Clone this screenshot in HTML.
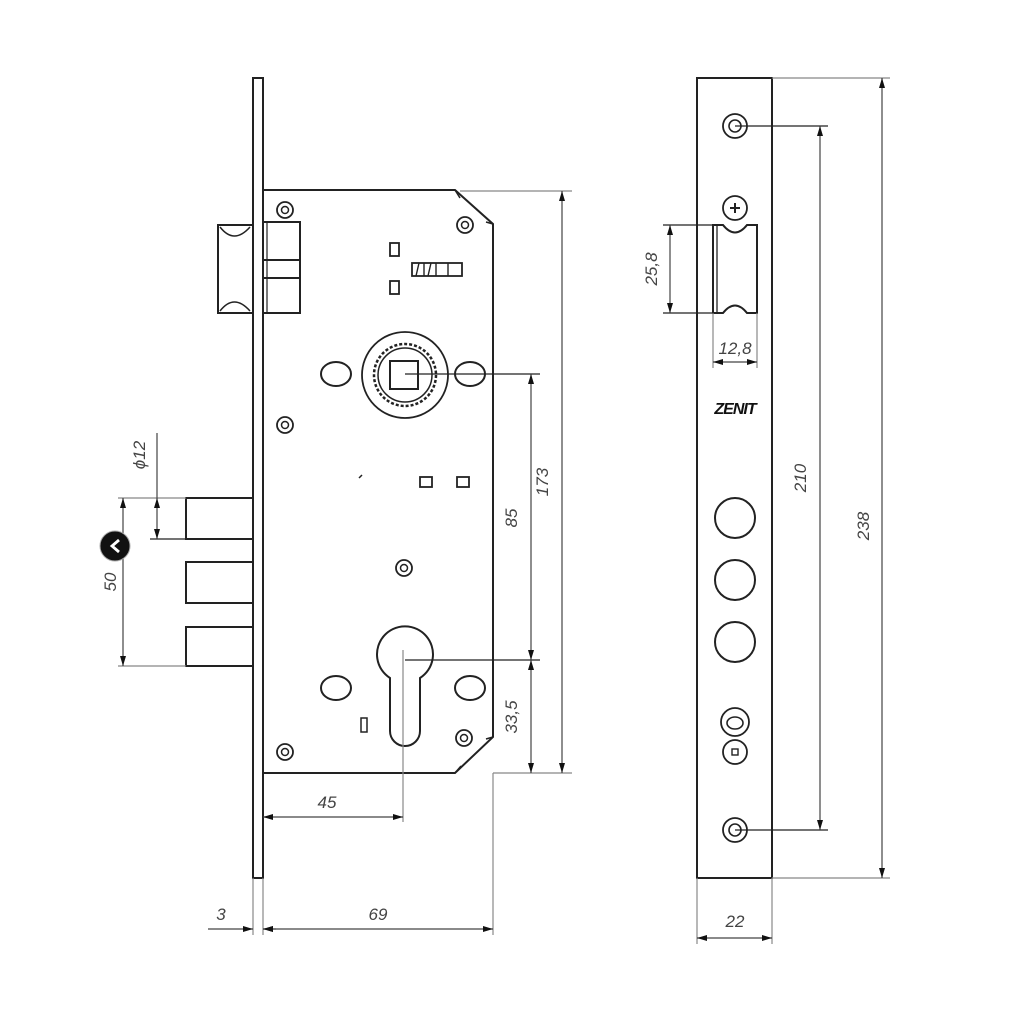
<!DOCTYPE html>
<html><head><meta charset="utf-8"><style>
html,body{margin:0;padding:0;background:#fff;}
svg{display:block;}
text{font-family:"Liberation Sans",sans-serif;font-style:italic;fill:#444;font-size:17px;}
</style></head><body>
<svg width="1024" height="1024" viewBox="0 0 1024 1024" xmlns="http://www.w3.org/2000/svg">
<defs>
<marker id="a" viewBox="0 0 10 6" refX="10" refY="3" markerWidth="10" markerHeight="6" orient="auto-start-reverse" markerUnits="userSpaceOnUse"><path d="M0,0 L10,3 L0,6 z" fill="#111"/></marker>
<g id="scr"><circle r="8" fill="none" stroke="#222" stroke-width="1.8"/><circle r="3.5" fill="none" stroke="#222" stroke-width="1.5"/></g>
</defs>
<g fill="none" stroke="#222" stroke-width="2">
<rect x="253" y="78" width="10" height="800"/>
<path d="M263,190 L455,190 L493,224 L493,737 L455,773 L263,773"/>
<path d="M455,190 L460,198 M493,224 L486,222 M493,737 L486,739 M455,773 L461,766" stroke-width="1.5"/>
<rect x="218" y="225" width="35" height="88"/>
<path d="M220,227 Q234,245 250,227 M220,311 Q234,293 250,311" stroke-width="1.5"/>
<rect x="263" y="222" width="37" height="91"/>
<line x1="263" y1="260" x2="300" y2="260"/><line x1="263" y1="278" x2="300" y2="278"/>
<line x1="267" y1="222" x2="267" y2="313" stroke-width="1.2"/>
<rect x="390" y="243" width="9" height="13" stroke-width="1.8"/>
<rect x="390" y="281" width="9" height="13" stroke-width="1.8"/>
<rect x="412" y="263" width="50" height="13" stroke-width="1.8"/>
<path d="M424,263 V276 M436,263 V276 M448,263 V276 M416,276 L419,263 M428,276 L431,263" stroke-width="1.4"/>
<circle cx="405" cy="375" r="43" stroke-width="1.8"/>
<circle cx="405" cy="375" r="31" stroke-width="2.5" stroke-dasharray="3 2"/>
<circle cx="405" cy="375" r="27" stroke-width="1.5"/>
<rect x="390" y="361" width="28" height="28"/>
<ellipse cx="336" cy="374" rx="15" ry="12"/>
<ellipse cx="470" cy="374" rx="15" ry="12"/>
<rect x="420" y="477" width="12" height="10" stroke-width="1.8"/>
<rect x="457" y="477" width="12" height="10" stroke-width="1.8"/>
<line x1="359" y1="478" x2="362" y2="475" stroke-width="1.5"/>
<path d="M253,498 H186 V539 H253 M253,562 H186 V603 H253 M253,627 H186 V666 H253"/>
<path d="M390,678 A28,28 0 1 1 420,678 L420,731 A15,15 0 0 1 390,731 Z"/>
<ellipse cx="336" cy="688" rx="15" ry="12"/>
<ellipse cx="470" cy="688" rx="15" ry="12"/>
<rect x="361" y="718" width="6" height="14" stroke-width="1.5"/>
</g>
<use href="#scr" x="285" y="210"/><use href="#scr" x="465" y="225"/><use href="#scr" x="285" y="425"/>
<use href="#scr" x="404" y="568"/><use href="#scr" x="285" y="752"/><use href="#scr" x="464" y="738"/>

<g stroke="#444" stroke-width="1.2" fill="none">
<line x1="460" y1="191" x2="572" y2="191" stroke="#888"/>
<line x1="493" y1="773" x2="572" y2="773" stroke="#888"/>
<line x1="562" y1="191" x2="562" y2="773" marker-start="url(#a)" marker-end="url(#a)"/>
<line x1="405" y1="374" x2="540" y2="374" stroke="#222"/>
<line x1="405" y1="660" x2="540" y2="660" stroke="#222"/>
<line x1="531" y1="374" x2="531" y2="660" marker-start="url(#a)" marker-end="url(#a)"/>
<line x1="531" y1="660" x2="531" y2="773" marker-start="url(#a)" marker-end="url(#a)"/>
<line x1="403" y1="650" x2="403" y2="822" stroke="#888"/>
<line x1="263" y1="817" x2="403" y2="817" marker-start="url(#a)" marker-end="url(#a)"/>
<line x1="493" y1="773" x2="493" y2="935" stroke="#888"/>
<line x1="253" y1="878" x2="253" y2="935" stroke="#888"/>
<line x1="263" y1="878" x2="263" y2="935" stroke="#888"/>
<line x1="263" y1="929" x2="493" y2="929" marker-start="url(#a)" marker-end="url(#a)"/>
<line x1="208" y1="929" x2="253" y2="929" marker-end="url(#a)"/>
<line x1="276" y1="929" x2="263" y2="929" marker-end="url(#a)"/>
<line x1="118" y1="498" x2="186" y2="498" stroke="#888"/>
<line x1="118" y1="666" x2="186" y2="666" stroke="#888"/>
<line x1="123" y1="498" x2="123" y2="666" marker-start="url(#a)" marker-end="url(#a)"/>
<line x1="150" y1="539" x2="186" y2="539" stroke="#222"/>
<line x1="157" y1="433" x2="157" y2="498"/>
<line x1="157" y1="498" x2="157" y2="539" marker-start="url(#a)" marker-end="url(#a)"/>
</g>
<text x="548" y="482" transform="rotate(-90 548 482)" text-anchor="middle">173</text>
<text x="517" y="518" transform="rotate(-90 517 518)" text-anchor="middle">85</text>
<text x="517" y="717" transform="rotate(-90 517 717)" text-anchor="middle">33,5</text>
<text x="327" y="808" text-anchor="middle">45</text>
<text x="378" y="920" text-anchor="middle">69</text>
<text x="221" y="920" text-anchor="middle">3</text>
<text x="116" y="582" transform="rotate(-90 116 582)" text-anchor="middle">50</text>
<text x="145" y="455" transform="rotate(-90 145 455)" text-anchor="middle">ϕ12</text>
<circle cx="115" cy="546" r="15" fill="#111" stroke="#aaa" stroke-width="1"/>
<path d="M119,540 L112,546 L119,552" fill="none" stroke="#fff" stroke-width="2.8"/>

<g fill="none" stroke="#222" stroke-width="2">
<rect x="697" y="78" width="75" height="800"/>
<circle cx="735" cy="126" r="12" stroke-width="1.8"/><circle cx="735" cy="126" r="6" stroke-width="1.6"/>
<circle cx="735" cy="208" r="12" stroke-width="1.8"/>
<path d="M730,208 H740 M735,203 V213" stroke-width="2"/>
<path d="M713,225 V313 H723 Q735,298 747,313 H757 V225 H747 Q735,240 723,225 Z"/>
<line x1="717" y1="225" x2="717" y2="313" stroke-width="1.3"/>
<circle cx="735" cy="518" r="20"/><circle cx="735" cy="580" r="20"/><circle cx="735" cy="642" r="20"/>
<circle cx="735" cy="722" r="14" stroke-width="1.8"/><ellipse cx="735" cy="723" rx="8" ry="6" stroke-width="1.6"/>
<circle cx="735" cy="752" r="12" stroke-width="1.8"/><rect x="732" y="749" width="6" height="6" stroke-width="1.4"/>
<circle cx="735" cy="830" r="12" stroke-width="1.8"/><circle cx="735" cy="830" r="6" stroke-width="1.6"/>
</g>
<g stroke="#444" stroke-width="1.2" fill="none">
<line x1="663" y1="225" x2="713" y2="225" stroke="#222"/>
<line x1="663" y1="313" x2="713" y2="313" stroke="#222"/>
<line x1="670" y1="225" x2="670" y2="313" marker-start="url(#a)" marker-end="url(#a)"/>
<line x1="713" y1="313" x2="713" y2="368" stroke="#888"/>
<line x1="757" y1="313" x2="757" y2="368" stroke="#888"/>
<line x1="713" y1="362" x2="757" y2="362" marker-start="url(#a)" marker-end="url(#a)"/>
<line x1="735" y1="126" x2="828" y2="126" stroke="#222"/>
<line x1="735" y1="830" x2="828" y2="830" stroke="#222"/>
<line x1="820" y1="126" x2="820" y2="830" marker-start="url(#a)" marker-end="url(#a)"/>
<line x1="772" y1="78" x2="890" y2="78" stroke="#888"/>
<line x1="772" y1="878" x2="890" y2="878" stroke="#888"/>
<line x1="882" y1="78" x2="882" y2="878" marker-start="url(#a)" marker-end="url(#a)"/>
<line x1="697" y1="878" x2="697" y2="944" stroke="#888"/>
<line x1="772" y1="878" x2="772" y2="944" stroke="#888"/>
<line x1="697" y1="938" x2="772" y2="938" marker-start="url(#a)" marker-end="url(#a)"/>
</g>
<text x="657" y="269" transform="rotate(-90 657 269)" text-anchor="middle">25,8</text>
<text x="735" y="354" text-anchor="middle">12,8</text>
<text x="806" y="478" transform="rotate(-90 806 478)" text-anchor="middle">210</text>
<text x="869" y="526" transform="rotate(-90 869 526)" text-anchor="middle">238</text>
<text x="735" y="927" text-anchor="middle">22</text>
<text x="735" y="414" text-anchor="middle" style="font-weight:bold;font-size:16px;fill:#111;letter-spacing:-1px">ZENIT</text>
</svg>
</body></html>
